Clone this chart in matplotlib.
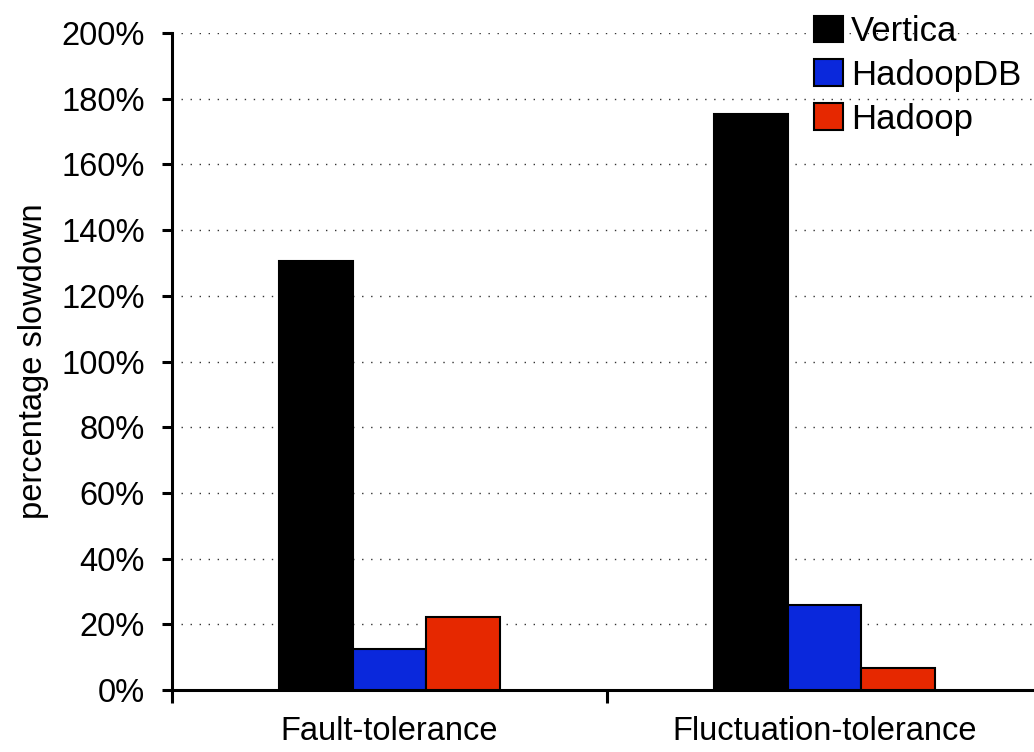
import matplotlib
matplotlib.use("Agg")
import matplotlib.pyplot as plt
import numpy as np
from matplotlib.ticker import FuncFormatter

categories = ["Fault-tolerance", "Fluctuation-tolerance"]
series_names = ["Vertica", "HadoopDB", "Hadoop"]
vertica = [130.5, 175.3]
hadoopdb = [12.5, 26.0]
hadoop = [22.3, 6.7]
colors = ["#000000", "#0A28DC", "#E62800"]
yticks = [0, 20, 40, 60, 80, 100, 120, 140, 160, 180, 200]

plt.rcParams['font.family'] = ['Liberation Sans', 'DejaVu Sans']

W, H = 1034, 752
fig = plt.figure(figsize=(W / 100, H / 100), dpi=100)
ax = fig.add_axes([172 / W, (H - 690) / H, (1042 - 172) / W, (690 - 33) / H])

x = np.arange(len(categories)) + 0.5
bw = 0.169
for i, (vals, name) in enumerate(zip([vertica, hadoopdb, hadoop], series_names)):
    ax.bar(x + (i - 1) * bw, vals, width=bw, color=colors[i], edgecolor="black",
           linewidth=1.5, label=name, zorder=3)

ax.set_xlim(0, 2)
ax.set_ylim(0, 200)
ax.set_yticks(yticks)
ax.yaxis.set_major_formatter(FuncFormatter(lambda v, p: f"{int(v)}%"))
ax.set_xticks([0, 1, 2])
ax.set_xticklabels([])
ax.set_xticks(x, minor=True)
ax.set_xticklabels(categories, minor=True)
ax.tick_params(axis='x', which='minor', length=0, pad=18.5, labelsize=23.5)
ax.tick_params(axis='x', which='major', length=9, width=2.2, direction='out')
ax.tick_params(axis='y', length=7.5, width=2.2, direction='out', pad=12, labelsize=23.5)

for s in ['top', 'right']:
    ax.spines[s].set_visible(False)
for s in ['left', 'bottom']:
    ax.spines[s].set_linewidth(2.2)

ax.yaxis.grid(True, linestyle=(0, (1, 5.5)), linewidth=1, color='#333333', zorder=0)
ax.set_axisbelow(True)

ax.set_ylabel("percentage slowdown", fontsize=23.5)
ax.yaxis.set_label_coords(-(172 - 49) / (1042 - 172), 0.5)

fig.legend(loc='upper left', bbox_to_anchor=(814 / W, 1 - 15 / H), frameon=False,
           fontsize=25, handlelength=0.84, handleheight=0.8, handletextpad=0.22,
           labelspacing=0.31, borderpad=0, borderaxespad=0)

fig.savefig("out.png", dpi=100)
